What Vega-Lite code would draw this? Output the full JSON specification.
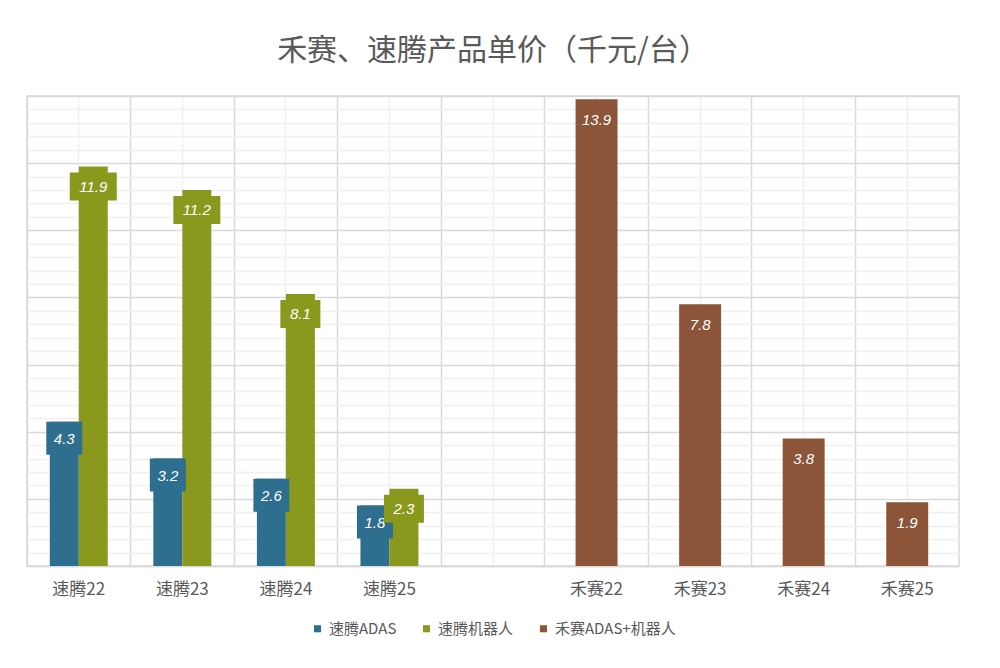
{
  "$schema": "https://vega.github.io/schema/vega-lite/v6.json",
  "width": 932,
  "height": 470,
  "autosize": {"type": "none"},
  "padding": {"left": 27, "top": 96, "right": 41, "bottom": 102},
  "title": {
    "text": "禾赛、速腾产品单价（千元/台）",
    "font": "Noto Sans CJK SC",
    "fontSize": 30,
    "fontWeight": "normal",
    "color": "#595959",
    "anchor": "middle",
    "offset": 30
  },
  "data": {
    "values": [
      {"cat": "速腾22", "series": "速腾ADAS", "value": 4.3},
      {"cat": "速腾22", "series": "速腾机器人", "value": 11.9},
      {"cat": "速腾23", "series": "速腾ADAS", "value": 3.2},
      {"cat": "速腾23", "series": "速腾机器人", "value": 11.2},
      {"cat": "速腾24", "series": "速腾ADAS", "value": 2.6},
      {"cat": "速腾24", "series": "速腾机器人", "value": 8.1},
      {"cat": "速腾25", "series": "速腾ADAS", "value": 1.8},
      {"cat": "速腾25", "series": "速腾机器人", "value": 2.3},
      {"cat": "禾赛22", "series": "禾赛ADAS+机器人", "value": 13.9},
      {"cat": "禾赛23", "series": "禾赛ADAS+机器人", "value": 7.8},
      {"cat": "禾赛24", "series": "禾赛ADAS+机器人", "value": 3.8},
      {"cat": "禾赛25", "series": "禾赛ADAS+机器人", "value": 1.9}
    ]
  },
  "layer": [
    {
      "transform": [{"filter": "datum.series == '禾赛ADAS+机器人'"}],
      "mark": {"type": "bar", "width": {"band": 0.405}},
      "encoding": {
        "x": {
          "field": "cat", "type": "nominal", "sort": null,
          "scale": {"domain": ["速腾22", "速腾23", "速腾24", "速腾25", " ", "禾赛22", "禾赛23", "禾赛24", "禾赛25"], "paddingInner": 0, "paddingOuter": 0},
          "axis": {
            "title": null, "orient": "bottom", "labelAngle": 0,
            "grid": true, "gridColor": "#f0f0f0", "gridWidth": 1.5,
            "ticks": false, "domain": true, "domainColor": "#d9d9d9", "domainWidth": 1.5,
            "labelFont": "Noto Sans CJK SC", "labelFontSize": 17, "labelColor": "#595959", "labelPadding": 15
          }
        },
        "y": {
          "field": "value", "type": "quantitative",
          "scale": {"domain": [0, 14], "nice": false},
          "axis": {
            "title": null, "orient": "left", "labels": false, "ticks": false, "domain": false,
            "grid": true, "gridColor": "#f0f0f0", "gridWidth": 1.5,
            "values": [0.4, 0.8, 1.2, 1.6, 2.4, 2.8, 3.2, 3.6, 4.4, 4.8, 5.2, 5.6, 6.4, 6.8, 7.2, 7.6, 8.4, 8.8, 9.2, 9.6, 10.4, 10.8, 11.2, 11.6, 12.4, 12.8, 13.2, 13.6]
          }
        },
        "color": {
          "field": "series", "type": "nominal",
          "scale": {"domain": ["速腾ADAS", "速腾机器人", "禾赛ADAS+机器人"], "range": ["#2e6e8e", "#8a991e", "#8c5438"]},
          "legend": {
            "title": null, "orient": "bottom", "direction": "horizontal",
            "symbolType": "square", "symbolSize": 50, "labelOffset": 4, "columnPadding": 22,
            "labelFont": "Noto Sans CJK SC", "labelFontSize": 15, "labelColor": "#595959", "offset": 24
          }
        }
      }
    },
    {
      "transform": [{"filter": "datum.series != '禾赛ADAS+机器人'"}],
      "mark": {"type": "bar"},
      "encoding": {
        "x": {
          "field": "cat", "type": "nominal", "sort": null,
          "axis": {
            "title": null, "orient": "top", "bandPosition": 0, "labels": false, "ticks": false, "domain": false,
            "grid": true, "gridColor": "#d9d9d9", "gridWidth": 1.5
          }
        },
        "xOffset": {"field": "series", "type": "nominal", "scale": {"domain": ["速腾ADAS", "速腾机器人"], "paddingInner": 0, "paddingOuter": 0.786}},
        "y": {
          "field": "value", "type": "quantitative",
          "axis": {
            "title": null, "orient": "right", "labels": false, "ticks": false, "domain": false,
            "grid": true, "gridColor": "#d9d9d9", "gridWidth": 1.5,
            "values": [0, 2, 4, 6, 8, 10, 12, 14]
          }
        },
        "color": {"field": "series", "type": "nominal", "legend": null}
      }
    },
    {
      "transform": [{"filter": "datum.series == '速腾ADAS'"}],
      "mark": {"type": "tick", "thickness": 33, "size": 36, "yOffset": 16.5, "opacity": 1},
      "encoding": {
        "x": {"field": "cat", "type": "nominal", "sort": null, "axis": null},
        "xOffset": {"field": "series", "type": "nominal"},
        "y": {"field": "value", "type": "quantitative", "axis": null},
        "color": {"field": "series", "type": "nominal", "legend": null}
      }
    },
    {
      "transform": [{"filter": "datum.series == '速腾ADAS'"}],
      "mark": {"type": "text", "font": "Liberation Sans", "fontStyle": "italic", "fontSize": 15, "color": "white", "baseline": "middle", "yOffset": 17},
      "encoding": {
        "x": {"field": "cat", "type": "nominal", "sort": null, "axis": null},
        "xOffset": {"field": "series", "type": "nominal"},
        "y": {"field": "value", "type": "quantitative", "axis": null},
        "text": {"field": "value", "type": "quantitative", "format": ".1f"}
      }
    },
    {
      "transform": [{"filter": "datum.series == '速腾机器人'"}],
      "mark": {"type": "tick", "thickness": 28, "yOffset": 20, "opacity": 1},
      "encoding": {
        "x": {"field": "cat", "type": "nominal", "sort": null, "axis": null},
        "xOffset": {"field": "series", "type": "nominal"},
        "y": {"field": "value", "type": "quantitative", "axis": null},
        "size": {"condition": {"test": "datum.value >= 10", "value": 47}, "value": 40},
        "color": {"field": "series", "type": "nominal", "legend": null}
      }
    },
    {
      "transform": [{"filter": "datum.series == '速腾机器人'"}],
      "mark": {"type": "text", "font": "Liberation Sans", "fontStyle": "italic", "fontSize": 15, "color": "white", "baseline": "middle", "yOffset": 20},
      "encoding": {
        "x": {"field": "cat", "type": "nominal", "sort": null, "axis": null},
        "xOffset": {"field": "series", "type": "nominal"},
        "y": {"field": "value", "type": "quantitative", "axis": null},
        "text": {"field": "value", "type": "quantitative", "format": ".1f"}
      }
    },
    {
      "transform": [{"filter": "datum.series == '禾赛ADAS+机器人'"}],
      "mark": {"type": "text", "font": "Liberation Sans", "fontStyle": "italic", "fontSize": 15, "color": "white", "baseline": "middle", "yOffset": 21},
      "encoding": {
        "x": {"field": "cat", "type": "nominal", "sort": null, "axis": null},
        "y": {"field": "value", "type": "quantitative", "axis": null},
        "text": {"field": "value", "type": "quantitative", "format": ".1f"}
      }
    }
  ],
  "resolve": {"axis": {"x": "independent", "y": "independent"}},
  "config": {
    "view": {"stroke": "#d9d9d9", "strokeWidth": 1.5},
    "background": "white",
    "legend": {"layout": {"bottom": {"anchor": "middle"}}}
  }
}
